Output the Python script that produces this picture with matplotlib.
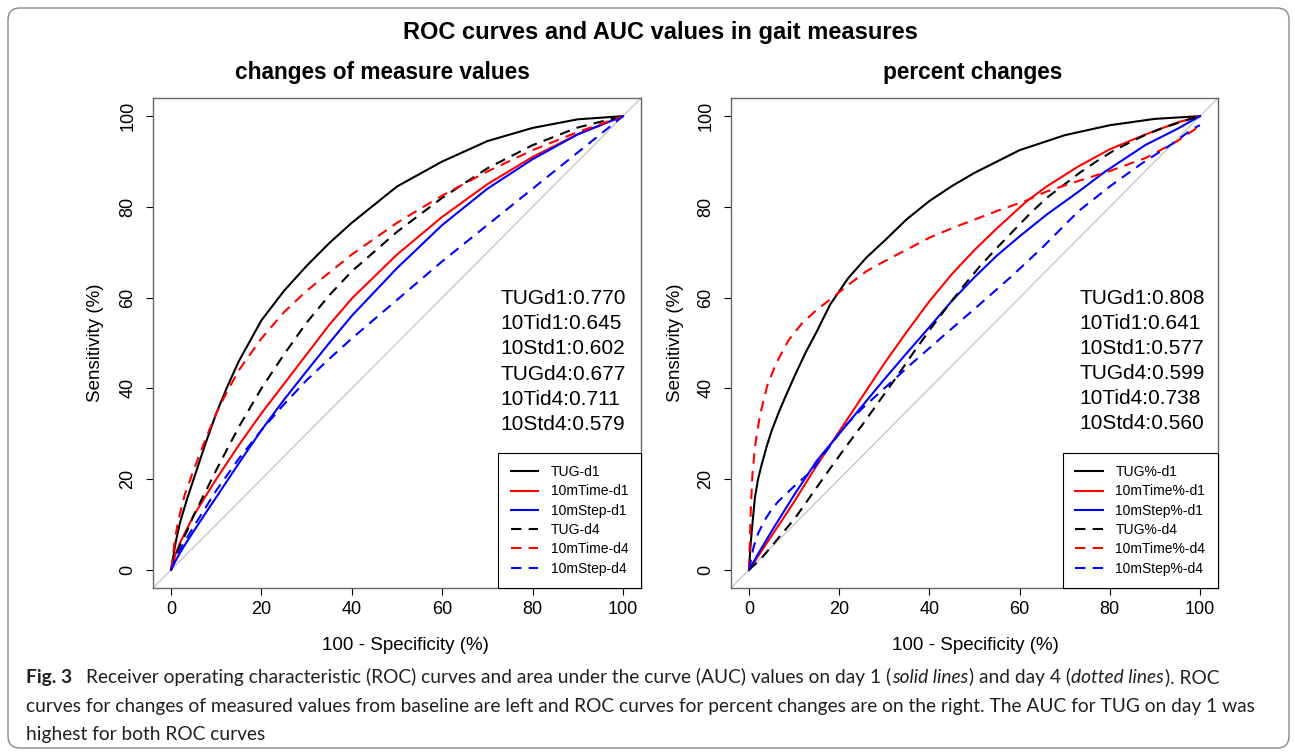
# ROC-Kurven (Fig. 3) nachgebaut: links Absolutwerte, rechts prozentuale Aenderungen
import matplotlib.pyplot as plt
from matplotlib.patches import FancyBboxPatch
from matplotlib.transforms import IdentityTransform
from matplotlib import font_manager

plt.rcParams['font.family'] = ['Liberation Sans', 'DejaVu Sans']

ticks = [0, 20, 40, 60, 80, 100]
colors = ["black", "red", "blue", "black", "red", "blue"]
left_labels = ["TUG-d1", "10mTime-d1", "10mStep-d1", "TUG-d4", "10mTime-d4", "10mStep-d4"]
right_labels = ["TUG%-d1", "10mTime%-d1", "10mStep%-d1", "TUG%-d4", "10mTime%-d4", "10mStep%-d4"]
left_auc = ["TUGd1:0.770", "10Tid1:0.645", "10Std1:0.602", "TUGd4:0.677", "10Tid4:0.711", "10Std4:0.579"]
right_auc = ["TUGd1:0.808", "10Tid1:0.641", "10Std1:0.577", "TUGd4:0.599", "10Tid4:0.738", "10Std4:0.560"]

# linkes Panel: 100 - Spezifitaet (x) und Sensitivitaet (y)
l_tug1_x = [0, 0.5, 1, 2, 3.5, 5, 7.5, 10, 12.5, 15, 20, 25, 30, 35, 40, 50, 60, 70, 80, 90, 100]
l_tug1_y = [0, 3, 6, 10.5, 15.5, 20, 27.5, 34.5, 40.5, 46, 55, 61.5, 67, 72, 76.5, 84.5, 90, 94.5, 97.4, 99.3, 100]
l_t1_x = [0, 1, 2, 3.5, 5, 7.5, 10, 15, 20, 25, 30, 35, 40, 50, 60, 70, 80, 90, 100]
l_t1_y = [0, 3.5, 6, 9, 12, 16, 20, 27.5, 34.5, 41, 47.5, 54, 59.8, 69.5, 77.8, 85, 91, 96, 100]
l_s1_x = [0, 1, 2, 3.5, 5, 7.5, 10, 15, 20, 25, 30, 35, 40, 50, 60, 70, 80, 90, 100]
l_s1_y = [0, 2, 3.8, 6.2, 8.5, 12.3, 16, 23.5, 30.8, 37.5, 43.8, 50, 56, 66.5, 76, 84, 90.5, 96, 100]
l_tug4_x = [0, 1, 2, 3.5, 5, 7.5, 10, 15, 20, 25, 30, 35, 40, 50, 60, 70, 80, 90, 100]
l_tug4_y = [0, 3, 5.5, 8.5, 12, 17, 22, 31.5, 40, 47.5, 54.5, 60.5, 65.8, 74.5, 82, 88.5, 93.6, 97.5, 100]
l_t4_x = [0, 0.3, 0.7, 1.5, 3, 5, 7.5, 10, 12.5, 15, 20, 25, 30, 35, 40, 50, 60, 70, 80, 90, 100]
l_t4_y = [0, 2, 5.5, 10.5, 16.5, 22, 28.5, 34.5, 39.5, 44, 51, 56.8, 61.5, 65.5, 69.5, 76.5, 82.5, 87.8, 92.5, 96.5, 100]
l_s4_x = [0, 1, 2, 3.5, 5, 7.5, 10, 15, 20, 25, 30, 35, 40, 50, 60, 70, 80, 90, 100]
l_s4_y = [0, 2.5, 4.5, 7, 9.5, 13.5, 17.5, 24.5, 30.8, 36.5, 41.8, 46.5, 51, 59.5, 68, 76, 84, 92, 100]

# rechtes Panel
r_tug1_x = [0, 0.3, 0.6, 1.3, 2, 2.8, 4, 5, 6.5, 8, 10, 12.5, 15, 18, 22, 26, 30, 35, 40, 45, 50, 60, 70, 80, 90, 100]
r_tug1_y = [0, 5, 8.5, 15.9, 20, 23.2, 27.5, 30.6, 34.5, 38, 42.5, 47.8, 52.5, 58.5, 64.3, 68.8, 72.5, 77.3, 81.3, 84.6, 87.5, 92.5, 95.8, 98, 99.4, 100]
r_t1_x = [0, 2, 5, 7.5, 10, 15, 20, 25, 30, 35, 40, 45, 50, 55, 61.5, 66, 73, 80, 88, 95, 100]
r_t1_y = [0, 3, 7.5, 11.2, 15, 23, 30.5, 38, 45.5, 52.5, 59.2, 65.2, 70.5, 75.3, 81.2, 84.5, 88.9, 92.7, 96, 98.6, 100]
r_s1_x = [0, 2, 5, 7.5, 10, 15, 20, 25, 30, 35, 40, 45, 50, 55, 60, 66, 73, 79, 88, 95, 100]
r_s1_y = [0, 3.5, 8.5, 12.5, 16.5, 24, 30, 36, 42, 47.8, 53.5, 59.3, 64.5, 69.3, 73.5, 78.3, 83.3, 87.8, 93.7, 97.2, 100]
r_tug4_x = [0, 2.8, 6.5, 10.2, 13.9, 17.6, 21.3, 25, 28.6, 32.5, 36.4, 40, 43.8, 47.5, 51.1, 55, 58.5, 62, 65.9, 70, 73.3, 77, 80.7, 85, 88, 92, 95.4, 100]
r_tug4_y = [0, 2.6, 7, 11.4, 16.6, 21.8, 26.9, 31.8, 36.8, 42.2, 47.8, 52.8, 57.8, 62.5, 66.8, 71, 74.6, 78.2, 81.9, 85, 87.5, 90, 92.3, 94.5, 95.9, 97.5, 98.6, 100]
r_t4_x = [0, 0.15, 0.4, 0.75, 1.3, 2.4, 4, 6, 8.7, 11.7, 15, 18, 22, 26, 30, 35, 40, 45, 50, 55, 61.5, 66, 73, 80, 88, 95, 99, 100]
r_t4_y = [0, 5.5, 13.5, 21, 27, 34, 40.5, 45.5, 50.5, 54.3, 57.3, 59.6, 62.8, 65.8, 68, 70.6, 73.2, 75.3, 77.2, 79.1, 81.4, 83.4, 85.7, 87.9, 90.8, 94.5, 97.2, 98.3]
r_s4_x = [0, 1, 2, 3.5, 5, 6.5, 8.5, 10.2, 13.9, 17, 21, 25, 30, 36, 43, 50, 58, 65, 73, 80, 87, 94, 98.5, 100]
r_s4_y = [0, 5, 8, 11, 13.3, 15.1, 17, 18.6, 21.8, 26, 31.4, 35.5, 40, 45.4, 51.5, 57.5, 64.5, 71, 79, 84.5, 89.5, 94, 97.3, 98]

left_x = [l_tug1_x, l_t1_x, l_s1_x, l_tug4_x, l_t4_x, l_s4_x]
left_y = [l_tug1_y, l_t1_y, l_s1_y, l_tug4_y, l_t4_y, l_s4_y]
right_x = [r_tug1_x, r_t1_x, r_s1_x, r_tug4_x, r_t4_x, r_s4_x]
right_y = [r_tug1_y, r_t1_y, r_s1_y, r_tug4_y, r_t4_y, r_s4_y]

W, H = 1295, 753
fig = plt.figure(figsize=(W / 100, H / 100), dpi=100)
fig.patch.set_facecolor("white")

# abgerundeter Rahmen um alles
frame = FancyBboxPatch((8, H - 748), 1281, 740, boxstyle="round,pad=0,rounding_size=12",
                       transform=IdentityTransform(), fill=False, edgecolor="#8a8a8a", lw=1.0)
fig.add_artist(frame)

ax1 = fig.add_axes([153 / W, 1 - 588 / H, 488 / W, 490 / H])
ax2 = fig.add_axes([731 / W, 1 - 588 / H, 487 / W, 490 / H])


def panel(ax, xs, ys, labels, auc, auc_x, auc_step):
    ax.set_xlim(-4, 104)
    ax.set_ylim(-4, 104)
    ax.plot([-4, 104], [-4, 104], color="#c8c8c8", lw=1, zorder=1)
    handles = []
    for i in range(6):
        if i < 3:
            ln, = ax.plot(xs[i], ys[i], color=colors[i], lw=1.5, zorder=2)
        else:
            ln, = ax.plot(xs[i], ys[i], color=colors[i], lw=1.5, dashes=(5, 3.5), zorder=2)
        handles.append(ln)
    ax.set_xticks(ticks)
    ax.set_yticks(ticks)
    ax.tick_params(direction="out", length=5, width=0.8, labelsize=13, colors="black")
    ax.tick_params(axis="x", pad=4)
    ax.tick_params(axis="y", pad=7, labelrotation=90)
    plt.setp(ax.get_yticklabels(), va="center")
    for s in ax.spines.values():
        s.set_color("#666666")
        s.set_linewidth(1)
    for i, s in enumerate(auc):
        ax.text(auc_x, 59.8 - auc_step * i, s, fontsize=15, ha="left", va="center")
    leg = ax.legend(handles, labels, loc="lower right", borderaxespad=0, fontsize=10,
                    fancybox=False, edgecolor="black", framealpha=1, handlelength=2.0,
                    handletextpad=0.9, labelspacing=0.38, borderpad=0.9)
    leg.get_frame().set_linewidth(0.8)


panel(ax1, left_x, left_y, left_labels, left_auc, 72.8, 5.55)
panel(ax2, right_x, right_y, right_labels, right_auc, 73.3, 5.5)

fig.text(660 / W, 1 - 33 / H, "ROC curves and AUC values in gait measures",
         ha="center", va="center", fontsize=17, fontweight="bold")
fig.text(382 / W, 1 - 72 / H, "changes of measure values", ha="center", va="center",
         fontsize=16.3, fontweight="bold")
fig.text(973 / W, 1 - 72 / H, "percent changes", ha="center", va="center",
         fontsize=16.3, fontweight="bold")
for cx in [405, 975]:
    fig.text(cx / W, 1 - 645 / H, "100 - Specificity (%)", ha="center", va="center", fontsize=13.5)
for cx in [96, 675]:
    fig.text(cx / W, 1 - 343 / H, "Sensitivity (%)", ha="center", va="center",
             fontsize=13.5, rotation=90)

# Bildunterschrift, Breite an Zeile 2 angepasst
names = {f.name for f in font_manager.fontManager.ttflist}
cap_font = "Liberation Sans Narrow" if "Liberation Sans Narrow" in names else "Lato"
cap_color = "#231f20"
line2 = ("curves for changes of measured values from baseline are left and ROC curves for "
         "percent changes are on the right. The AUC for TUG on day 1 was")
r = fig.canvas.get_renderer()
probe = fig.text(0, 0, line2, fontsize=10, family=cap_font)
cap_size = 10 * 1232 / probe.get_window_extent(r).width
probe.remove()
em = cap_size * 100 / 72
normal = {}
bold = {"fontweight": "bold"}
ital = {"fontstyle": "italic"}


def caption_line(parts, y):
    x = 26
    for s, style, gap in parts:
        t = fig.text(x / W, 1 - y / H, s, fontsize=cap_size, family=cap_font,
                     color=cap_color, va="baseline", **style)
        x += t.get_window_extent(r).width + gap


caption_line([("Fig. 3", bold, 0.75 * em),
              ("Receiver operating characteristic (ROC) curves and area under the curve (AUC) "
               "values on day 1 (", normal, 0.5),
              ("solid lines", ital, 0.5),
              (") and day 4 (", normal, 0.5),
              ("dotted lines", ital, 0.5),
              ("). ROC", normal, 0)], 683)
caption_line([(line2, normal, 0)], 712)
caption_line([("highest for both ROC curves", normal, 0)], 740)

fig.savefig("out.png", dpi=100, facecolor="white")
